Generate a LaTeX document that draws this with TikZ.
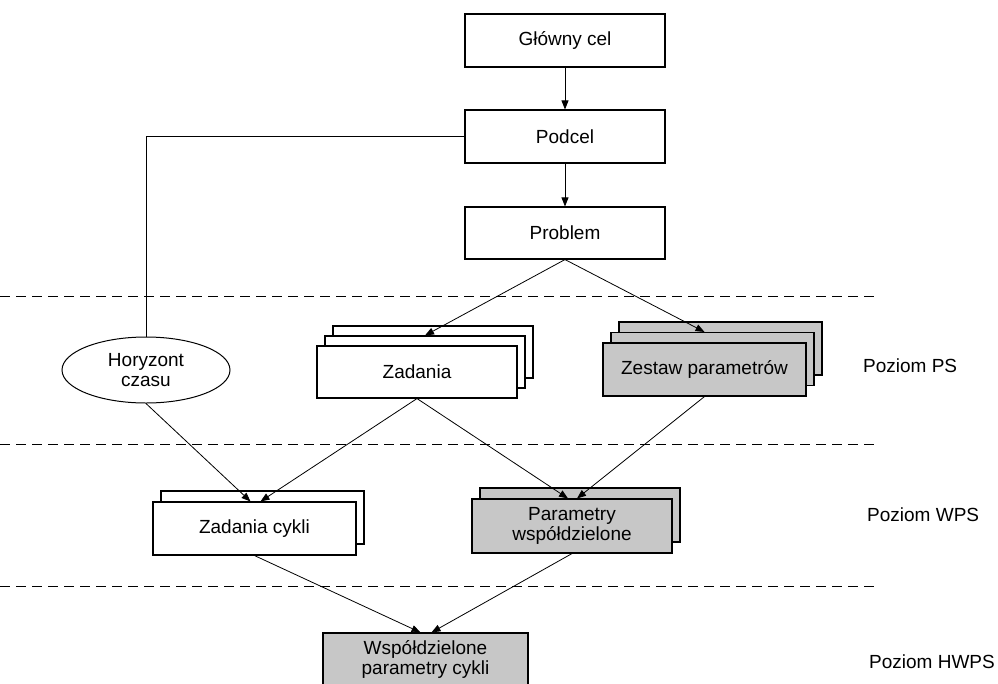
\documentclass[tikz,border=0pt]{standalone}
\usepackage{fontspec}
\setmainfont{Liberation Sans}
\usetikzlibrary{arrows.meta,shapes.geometric,calc}
\begin{document}
\begin{tikzpicture}[x=1pt,y=-1pt,
  font=\fontsize{19}{19.5}\selectfont,
  box/.style={draw, line width=1.1pt, fill=white, inner sep=0pt, minimum width=200pt, minimum height=52pt, align=center},
  grey/.style={box, fill=black!22},
  conn/.style={line width=0.8pt, -{Triangle[length=9pt,width=7pt]}},
  plain/.style={line width=0.8pt},
  level/.style={dash pattern=on 10pt off 6pt, line width=0.9pt},
  lab/.style={anchor=west, inner sep=0pt}]
\useasboundingbox (0,0) rectangle (998,683);

% level separators
\draw[level] (0,296) -- (878,296);
\draw[level] (0,444) -- (878,444);
\draw[level] (0,586) -- (878,586);

% top chain
\node[box, minimum height=53pt] (g) at (565,40.5) {Główny cel};
\node[box, minimum height=53pt] (p) at (565,136.5) {Podcel};
\node[box] (pr) at (565,233) {Problem};

% Zadania stack
\node[box] (z3) at (433,352) {};
\node[box] (z2) at (425,362) {};
\node[box] (z) at (417,372) {Zadania};

% Zestaw parametrow stack
\node[grey, minimum width=203pt, minimum height=53pt] (zs3) at (720.5,348.5) {};
\node[grey, minimum width=203pt, minimum height=53pt] (zs2) at (712.5,359) {};
\node[grey, minimum width=203pt, minimum height=53pt] (zs) at (704.5,369.5) {Zestaw parametrów};

% Horyzont czasu
\node[ellipse, draw, line width=1pt, minimum width=168pt, minimum height=66pt, inner sep=0pt, align=center] (h) at (146,370) {Horyzont\\czasu};

% Zadania cykli stack
\node[box, minimum width=203pt, minimum height=53pt] (zc2) at (262.5,517.5) {};
\node[box, minimum width=203pt, minimum height=53pt] (zc) at (254.5,528.5) {Zadania cykli};

% Parametry wspoldzielone stack
\node[grey, minimum height=54pt] (pw2) at (580,515) {};
\node[grey, minimum height=54pt] (pw) at (572,526) {Parametry\\współdzielone};

% bottom
\node[grey, minimum width=205pt, minimum height=53pt] (wp) at (425.5,659.5) {Współdzielone\\parametry cykli};

% level labels
\node[lab] (l1) at (863,366) {Poziom PS};
\node[lab] (l2) at (867,515) {Poziom WPS};
\node[lab] (l3) at (869,662) {Poziom HWPS};

% connectors
\draw[conn] (g.south) -- (p.north);
\draw[conn] (p.south) -- (pr.north);
\draw[plain] (h.north) |- (p.west);
\draw[conn] (pr.south) -- (z2.north);
\draw[conn] (pr.south) -- (zs.center |- zs2.north);
\draw[conn] (h.south) -- ($(zc.north)+(-4,0)$);
\draw[conn] (z.south) -- ($(zc.north)+(6,0)$);
\draw[conn] (z.south) -- ($(pw.north)+(-4,0)$);
\draw[conn] (zs.south) -- ($(pw.north)+(5,0)$);
\draw[conn] (zc.south) -- ($(wp.north)+(-5,0)$);
\draw[conn] (pw.south) -- ($(wp.north)+(6,0)$);
\end{tikzpicture}
\end{document}
